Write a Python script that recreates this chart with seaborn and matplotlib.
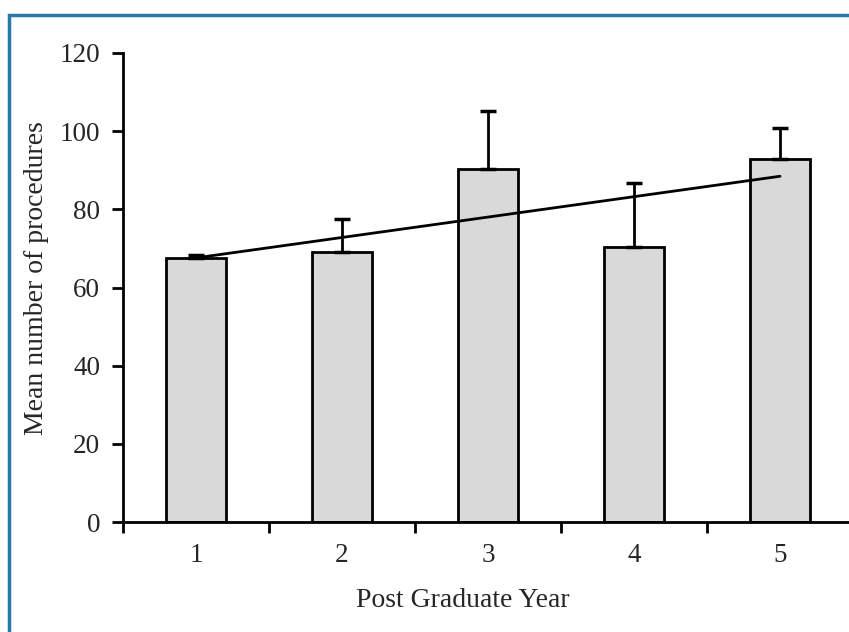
import numpy as np
import pandas as pd
import seaborn as sns
import matplotlib.pyplot as plt
from matplotlib.patches import Rectangle
from matplotlib.ticker import FixedLocator

years = ["1", "2", "3", "4", "5"]
means = [67.5, 69.0, 90.3, 70.4, 92.9]
errors = [0.8, 8.5, 14.8, 16.3, 7.8]

df = pd.DataFrame({"year": years, "mean": means})

sns.set_style("white")
plt.rcParams["font.family"] = ["Liberation Serif", "DejaVu Serif"]

fig = plt.figure(figsize=(8.49, 6.32), dpi=100)
ax = fig.add_axes([123 / 849, 1 - 522 / 632, 730 / 849, 469 / 632])

sns.barplot(data=df, x="year", y="mean", color="#d9d9d9", saturation=1,
            edgecolor="black", linewidth=2, width=0.41, errorbar=None, ax=ax)

# upward-only error bars
pos = np.arange(len(years))
ax.errorbar(pos, means, yerr=[[0] * len(errors), errors], fmt="none",
            ecolor="black", elinewidth=2, capsize=6, capthick=2.5, zorder=3)

# linear trend line over the bar means
slope, icpt = np.polyfit(np.arange(1, 6), means, 1)
ax.plot(pos, slope * np.arange(1, 6) + icpt, color="black", lw=2, zorder=4)

ax.set_xlim(-0.5, 4.5)
ax.set_ylim(0, 120)
ax.set_yticks(range(0, 121, 20))
ax.xaxis.set_minor_locator(FixedLocator(np.arange(-0.5, 5, 1)))
ax.tick_params(axis="x", which="major", bottom=True, length=0, pad=15, labelsize=19.5)
ax.tick_params(axis="x", which="minor", bottom=True, length=8, width=2, direction="out", color="black")
ax.tick_params(axis="y", left=True, length=8, width=2, direction="out", pad=8.5,
               labelsize=19.5, color="black")
for side in ["top", "right"]:
    ax.spines[side].set_visible(False)
for side in ["left", "bottom"]:
    ax.spines[side].set_linewidth(2)
    ax.spines[side].set_color("black")

ax.set_xlabel("Post Graduate Year", fontsize=20)
ax.set_ylabel("Mean number of procedures", fontsize=20)
ax.xaxis.set_label_coords(0.466, -0.14)
ax.yaxis.set_label_coords(-0.102, 0.52)

fig.add_artist(Rectangle((9 / 849, -0.1), 1.2, 1.1 - 15 / 632, transform=fig.transFigure,
                         fill=False, edgecolor="#2878a8", linewidth=2.5))

fig.savefig("out.png", dpi=100)
